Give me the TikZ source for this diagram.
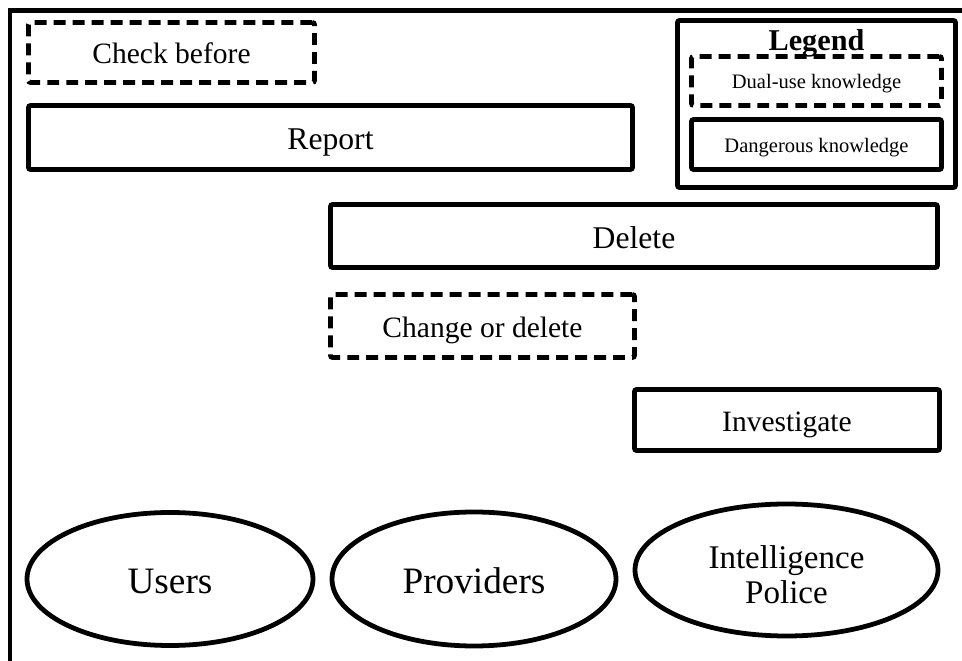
\documentclass[tikz,border=0pt]{standalone}
\usepackage{fontspec}
\setmainfont{Liberation Serif}
\usetikzlibrary{shapes}
\newcommand{\kn}[1]{\fontsize{#1}{1.15\dimexpr #1pt\relax}\selectfont}
\tikzset{txt/.style={
  font=\kn{#1}, text height=\dimexpr #1pt*43/50\relax,
  text depth=\dimexpr #1pt/10\relax
}}
\tikzset{dng/.style={
  draw, line width=3.4pt, rounded corners=1.5pt,
  inner sep=0pt, txt=21
}}
\tikzset{dualuse/.style={
  dng, dash pattern=on 8.5pt off 5pt
}}
\tikzset{actor/.style={
  draw, ellipse, line width=3.4pt, inner sep=0pt, txt=26.5
}}

\begin{document}
\begin{tikzpicture}[x=0.025cm,y=-0.025cm]
    \useasboundingbox (0,0) rectangle (962,661);
    \draw[line width=3.4pt] (10,661) -- (10,10.5) -- (962,10.5);
    % measures
    \node[dualuse,minimum width=286*0.025cm,minimum height=60*0.025cm] (check) at (171.5,52.5) {Check before};
    \node[dng,txt=22.5,minimum width=604*0.025cm,minimum height=64*0.025cm] (report) at (330.5,137.5) {Report};
    \node[dng,txt=22.5,minimum width=607*0.025cm,minimum height=63*0.025cm] (delete) at (634,236) {Delete};
    \node[dualuse,minimum width=304*0.025cm,minimum height=63*0.025cm] (change) at (482.5,326) {Change or delete};
    \node[dng,minimum width=305*0.025cm,minimum height=61*0.025cm] (invest) at (787,420) {Investigate};
    % legend
    \node[dng,minimum width=278*0.025cm,minimum height=167*0.025cm] (legend) at (816.5,104) {};
    \node[dng,draw=none,txt=21.5,font=\kn{21.5}\bfseries] (legtitle) at (816.5,39.5) {Legend};
    \node[dualuse,txt=14.6,minimum width=250*0.025cm,minimum height=49*0.025cm] (legdual) at (816.5,81) {Dual-use knowledge};
    \node[dng,txt=14.6,minimum width=250*0.025cm,minimum height=50*0.025cm] (legdng) at (816.5,144.5) {Dangerous knowledge};
    % actors
    \node[actor,minimum width=286*0.025cm,minimum height=133*0.025cm] (users) at (170,579) {Users};
    \node[actor,minimum width=284*0.025cm,minimum height=134*0.025cm] (prov) at (474,579) {Providers};
    \node[actor,minimum width=303*0.025cm,minimum height=132*0.025cm] (intel) at (786.5,570) {};
    \node[align=center,inner sep=0pt,font=\fontsize{23.5}{24.9}\selectfont] (intellabel) at (786.5,575) {Intelligence\\Police};
\end{tikzpicture}
\end{document}
